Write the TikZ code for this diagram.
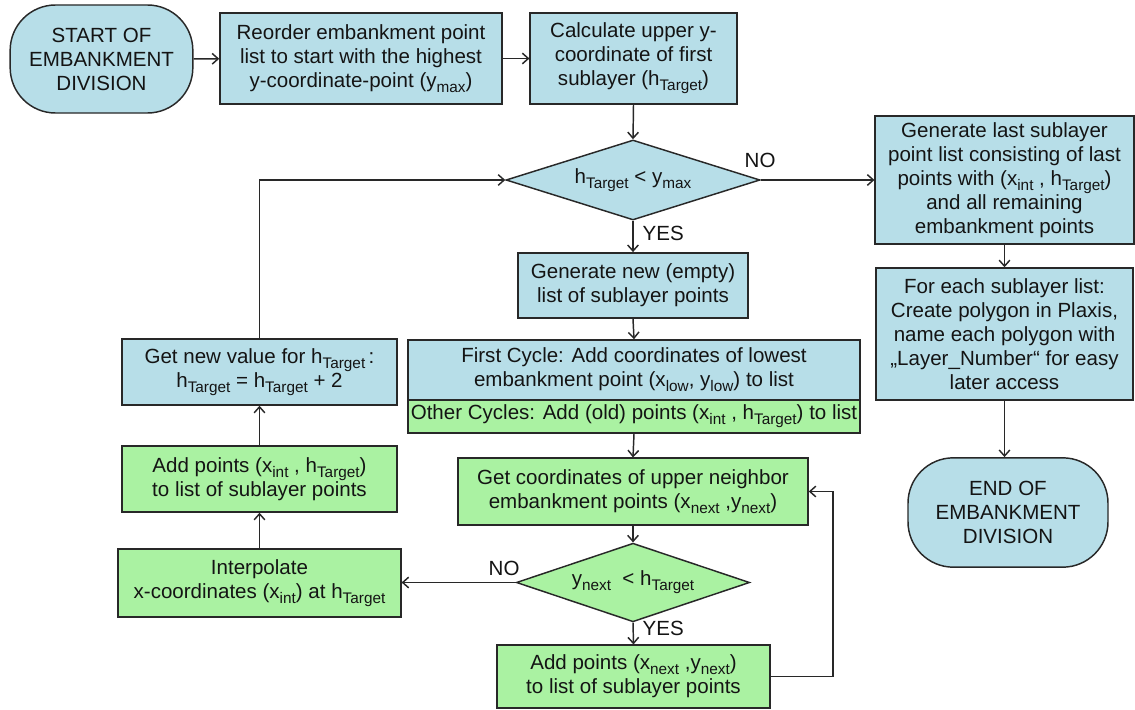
\documentclass[tikz,border=0pt]{standalone}
\usepackage{fontspec}
\setmainfont{Liberation Sans}
\usetikzlibrary{shapes.geometric,arrows.meta}

\definecolor{flowblue}{RGB}{183, 222, 232}
\definecolor{flowgreen}{RGB}{170, 242, 162}
\definecolor{flowline}{RGB}{40, 40, 40}
\definecolor{flowtext}{RGB}{20, 20, 20}

\newcommand{\lowsub}[1]{\raisebox{-0.45ex}{\fontsize{11.5}{12}\selectfont #1}}

\begin{document}
\begin{tikzpicture}[
  x=0.75pt,
  y=-0.75pt,
  flowbox/.style={draw=flowline, line width=1.1pt, rectangle, align=center, inner sep=1pt,
    font=\fontsize{15.4}{18}\selectfont, text=flowtext},
  bluebox/.style={flowbox, fill=flowblue},
  greenbox/.style={flowbox, fill=flowgreen},
  termbox/.style={bluebox, rounded corners=34pt, minimum width=137pt, minimum height=81pt},
  decbox/.style={flowbox, diamond, aspect=3.2, inner sep=0pt},
  yesno/.style={font=\fontsize{15.4}{18}\selectfont, text=flowtext},
  link/.style={draw=flowline, line width=1.1pt, -{Straight Barb[length=4.5pt, width=8pt]}}
]

  \useasboundingbox (0, 0) rectangle (1135, 710);

  % Top row
  \node[termbox] (start) at (101.5, 59) {START OF\\EMBANKMENT\\DIVISION};
  \node[bluebox, minimum width=211.5pt, minimum height=68pt] (reorder) at (361, 58.5)
    {Reorder embankment point\\list to start with the highest\\y-coordinate-point (y\lowsub{max})};
  \node[bluebox, minimum width=155pt, minimum height=68pt] (calc) at (633.5, 58.5)
    {Calculate upper y-\\coordinate of first\\sublayer (h\lowsub{Target})};

  % Main check
  \node[decbox, fill=flowblue, minimum width=190.5pt, minimum height=60pt] (dec1) at (633, 180)
    {h\lowsub{Target} < y\lowsub{max}};
  \node[bluebox, minimum width=194pt, minimum height=96pt] (genlast) at (1004.5, 180)
    {Generate last sublayer\\point list consisting of last\\points with (x\lowsub{int} , h\lowsub{Target})\\and all remaining\\embankment points};
  \node[bluebox, minimum width=193pt, minimum height=99pt] (foreach) at (1004.5, 334)
    {For each sublayer list:\\Create polygon in Plaxis,\\name each polygon with\\„Layer\_Number“ for easy\\later access};
  \node[termbox, minimum width=150pt, minimum height=82pt] (endnode) at (1008, 512.5)
    {END OF\\EMBANKMENT\\DIVISION};

  % Middle column
  \node[bluebox, minimum width=172.5pt, minimum height=49pt] (gennew) at (633, 285.5)
    {Generate new (empty)\\list of sublayer points};
  \node[bluebox, minimum width=339pt, minimum height=45pt] (splittop) at (634, 370)
    {First Cycle: Add coordinates of lowest\\embankment point (x\lowsub{low}, y\lowsub{low}) to list};
  \node[greenbox, minimum width=339pt, minimum height=25pt] (splitbot) at (634, 416.5)
    {Other Cycles: Add (old) points (x\lowsub{int} , h\lowsub{Target}) to list};
  \node[greenbox, minimum width=262.5pt, minimum height=50pt] (getcoord) at (633, 491.5)
    {Get coordinates of upper neighbor\\embankment points (x\lowsub{next} ,y\lowsub{next})};
  \node[decbox, fill=flowgreen, minimum width=175pt, minimum height=59pt] (dec2) at (633, 582.5)
    {y\lowsub{next}\ \ < h\lowsub{Target}};
  \node[greenbox, minimum width=205pt, minimum height=47pt] (addnext) at (633.5, 676.5)
    {Add points (x\lowsub{next} ,y\lowsub{next})\\to list of sublayer points};

  % Left column
  \node[bluebox, minimum width=206pt, minimum height=49.5pt] (getval) at (259.5, 372)
    {Get new value for h\lowsub{Target}\,:\\h\lowsub{Target} = h\lowsub{Target} + 2};
  \node[greenbox, minimum width=206pt, minimum height=49.5pt] (addint) at (259.5, 479)
    {Add points (x\lowsub{int} , h\lowsub{Target})\\to list of sublayer points};
  \node[greenbox, minimum width=212pt, minimum height=51pt] (interp) at (259.5, 583)
    {Interpolate\\x-coordinates (x\lowsub{int}) at h\lowsub{Target}};

  % Branch labels
  \node[yesno, anchor=west] (no1) at (740, 160) {NO};
  \node[yesno, anchor=west] (yes1) at (638, 233) {YES};
  \node[yesno, anchor=west] (no2) at (484, 568) {NO};
  \node[yesno, anchor=west] (yes2) at (638, 628) {YES};

  \coordinate (loopx) at (833, 491.5);

  % Connectors
  \draw[link] (start) -- (reorder);
  \draw[link] (reorder) -- (calc);
  \draw[link] (calc.south) -- (dec1.north);
  \draw[link] (dec1.east) -- (genlast.west);
  \draw[link] (dec1.south) -- (gennew.north);
  \draw[link] (gennew.south) -- (splittop.north);
  \draw[link] (splitbot.south) -- (getcoord.north);
  \draw[link] (getcoord.south) -- (dec2.north);
  \draw[link] (dec2.south) -- (addnext.north);
  \draw[link] (addnext.east) -| (loopx) -- (getcoord.east);
  \draw[link] (dec2.west) -- (dec2.west -| interp.east);
  \draw[link] (interp.north) -- (addint.south);
  \draw[link] (addint.north) -- (getval.south);
  \draw[link] (getval.north) |- (dec1.west);
  \draw[link] (genlast.south) -- (foreach.north);
  \draw[link] (foreach.south) -- (foreach.south |- endnode.north);

\end{tikzpicture}
\end{document}
